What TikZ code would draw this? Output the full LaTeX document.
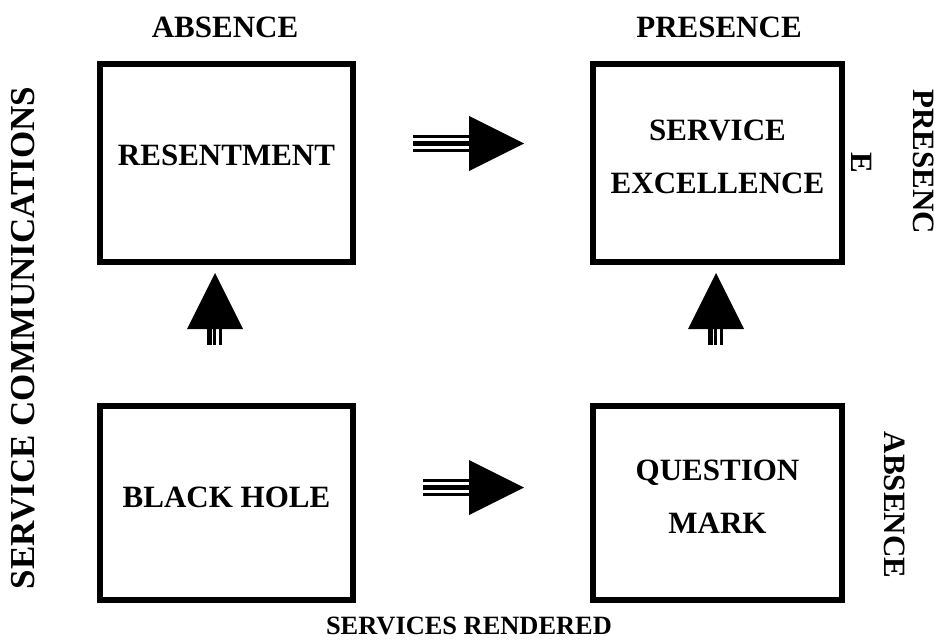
\documentclass[tikz,border=0pt]{standalone}
\usepackage{fontspec}
\setmainfont{Liberation Serif}
\begin{document}
\begin{tikzpicture}[x=1pt,y=-1pt,
  box/.style={draw, line width=6pt, inner sep=0pt},
  lbl/.style={font=\bfseries\fontsize{31}{53}\selectfont, inner sep=0pt, align=center},
  arrowhead/.style={fill=black, draw=none},
  thin/.style={line width=2.8pt},
  thick/.style={line width=5.5pt}]
\useasboundingbox (0,0) rectangle (934,642);
% boxes
\node[box, minimum width=253pt, minimum height=198pt] (tl) at (226.5,163) {};
\node[box, minimum width=249pt, minimum height=198pt] (tr) at (717.5,163) {};
\node[box, minimum width=253pt, minimum height=194pt] (bl) at (226.5,503) {};
\node[box, minimum width=249pt, minimum height=194pt] (br) at (717.5,503) {};
% box texts
\node[lbl] (tlt) at ([yshift=8pt]tl.center) {RESENTMENT};
\node[lbl] (trt) at ([yshift=6pt]tr.center) {SERVICE\\EXCELLENCE};
\node[lbl] (blt) at ([yshift=6pt]bl.center) {BLACK HOLE};
\node[lbl] (brt) at ([yshift=6pt]br.center) {QUESTION\\MARK};
% axis labels
\node[lbl] (abs1) at (225,27) {ABSENCE};
\node[lbl] (pre1) at (719,27) {PRESENCE};
\node[lbl, font=\bfseries\fontsize{26.4}{30}\selectfont] (srv) at (469,626) {SERVICES RENDERED};
\node[lbl, rotate=90, font=\bfseries\fontsize{35}{40}\selectfont] (com) at (23,338) {SERVICE COMMUNICATIONS};
\node[lbl, rotate=-90] (pre2) at (924,162) {PRESENC};
\node[lbl, rotate=-90] (pre3) at (862,163) {E};
\node[lbl, rotate=-90] (abs2) at (895,505) {ABSENCE};
% arrow positions
\coordinate (h1) at (469,143.5);
\coordinate (h2) at (469,487.5);
\coordinate (v1) at (215,329);
\coordinate (v2) at (716,329);
% horizontal arrows
\foreach \c/\s in {h1/56, h2/46}{
  \fill[arrowhead] ([yshift=-27.5pt]\c) -- ([xshift=55pt]\c) -- ([yshift=27.5pt]\c) -- cycle;
  \draw[thin] ([xshift=-\s pt, yshift=7pt]\c) -- ([yshift=7pt]\c);
  \draw[thick] ([xshift=-\s pt]\c) -- (\c);
  \draw[thin] ([xshift=-\s pt, yshift=-7pt]\c) -- ([yshift=-7pt]\c);
}
% vertical arrows
\foreach \c in {v1,v2}{
  \fill[arrowhead] ([xshift=-28pt]\c) -- ([yshift=56pt]\c) -- ([xshift=28pt]\c) -- cycle;
  \draw[line width=5pt] ([xshift=-5.8pt]\c) -- ([xshift=-5.8pt,yshift=-16pt]\c);
  \draw[line width=2.7pt] ([xshift=-0.3pt]\c) -- ([xshift=-0.3pt,yshift=-16pt]\c);
  \draw[line width=3.3pt] ([xshift=5.7pt]\c) -- ([xshift=5.7pt,yshift=-16pt]\c);
}
\end{tikzpicture}
\end{document}
